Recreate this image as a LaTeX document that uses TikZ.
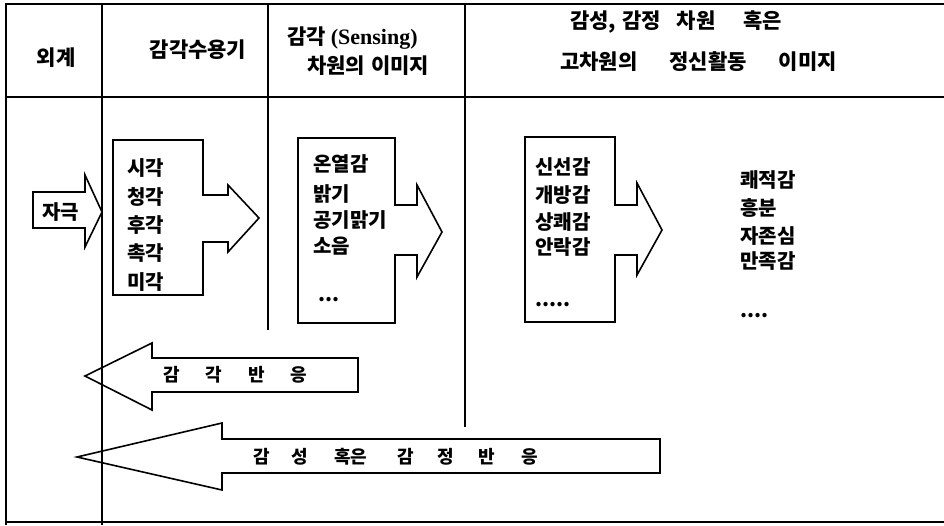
\documentclass[tikz,border=0pt]{standalone}
\usepackage{fontspec}
\setmainfont{Liberation Serif}
\newfontfamily\kr{Noto Sans CJK KR}
\begin{document}
\begin{tikzpicture}[x=1pt,y=-1pt,
  frame/.style={line width=1.6pt},
  arrowshape/.style={line width=1.6pt, line join=miter},
  hd/.style={font=\kr\bfseries\fontsize{21}{21}\selectfont, inner sep=0pt},
  lst/.style={font=\kr\bfseries\fontsize{20}{20}\selectfont, inner sep=0pt, anchor=west},
  lbl/.style={font=\kr\bfseries\fontsize{18}{18}\selectfont, inner sep=0pt, anchor=west}
]
\useasboundingbox (0,0) rectangle (944,525);
% frame
\draw[frame] (944,4) -- (6,4) -- (6,525);
\draw[frame] (6,97) -- (944,97);
\draw[frame] (6,522) -- (944,522);
\draw[frame] (102,4) -- (102,525);
\draw[frame] (268,4) -- (268,330);
\draw[frame] (465,4) -- (465,427);
% header texts
\node[hd] (hOut) at (56,58) {외계};
\node[hd] (hRec) at (198,50) {감각수용기};
\node[hd,anchor=west] (hSenA) at (287,38) {감각\hspace{5pt}\fontspec{Liberation Serif}\bfseries\fontsize{22}{22}\selectfont(Sensing)};
\node[hd,anchor=west] (hSenB) at (307,66) {차원의\hspace{6pt}이미지};
\node[hd,anchor=west] (hEmoA) at (570,22) {감성,\hspace{6pt}감정\hspace{16pt}차원\hspace{28pt}혹은};
\node[hd,anchor=west] (hEmoB) at (560,62) {고차원의\hspace{32pt}정신활동\hspace{32pt}이미지};
% stimulus arrow
\draw[arrowshape] (33,192) -- (85,192) -- (85,175) -- (102,212) -- (85,247) -- (85,228) -- (33,228) -- cycle;
\node[lst] (stim) at (42,212) {자극};
% receptor box arrow
\draw[arrowshape] (113,140) -- (203,140) -- (203,195) -- (228,195) -- (228,185) -- (259,218) -- (228,252) -- (228,242) -- (203,242) -- (203,295) -- (113,295) -- cycle;
\node[lst] (r1) at (127,168) {시각};
\node[lst] (r2) at (127,197) {청각};
\node[lst] (r3) at (127,225) {후각};
\node[lst] (r4) at (127,253) {촉각};
\node[lst] (r5) at (127,282) {미각};
% sensing box arrow
\draw[arrowshape] (298,138) -- (395,138) -- (395,205) -- (417,205) -- (417,185) -- (442,232) -- (417,277) -- (417,255) -- (395,255) -- (395,323) -- (298,323) -- cycle;
\node[lst] (s1) at (313,164) {온열감};
\node[lst] (s2) at (313,194) {밝기};
\node[lst] (s3) at (313,220) {공기맑기};
\node[lst] (s4) at (313,246) {소음};
\node[lst] (s5) at (318,300) {...};
% emotion box arrow
\draw[arrowshape] (525,137) -- (615,137) -- (615,205) -- (637,205) -- (637,183) -- (662,230) -- (637,275) -- (637,255) -- (615,255) -- (615,322) -- (525,322) -- cycle;
\node[lst] (e1) at (535,167) {신선감};
\node[lst] (e2) at (535,195) {개방감};
\node[lst] (e3) at (535,222) {상쾌감};
\node[lst] (e4) at (535,247) {안락감};
\node[lst] (e5) at (535,305) {.....};
% higher-level list
\node[lst] (m1) at (740,180) {쾌적감};
\node[lst] (m2) at (740,208) {흥분};
\node[lst] (m3) at (740,236) {자존심};
\node[lst] (m4) at (740,261) {만족감};
\node[lst] (m5) at (740,316) {....};
% feedback arrows
\draw[arrowshape] (358,358) -- (152,358) -- (152,343) -- (85,376) -- (152,410) -- (152,392) -- (358,392) -- cycle;
\node[lbl] (f1) at (163,375) {감\hspace{26pt}각\hspace{26pt}반\hspace{26pt}응};
\draw[arrowshape] (660,439) -- (222,439) -- (222,423) -- (77,457) -- (222,490) -- (222,473) -- (660,473) -- cycle;
\node[lbl] (f2) at (253,457) {감\hspace{22pt}성\hspace{26pt}혹은\hspace{30pt}감\hspace{24pt}정\hspace{24pt}반\hspace{26pt}응};
\end{tikzpicture}
\end{document}
